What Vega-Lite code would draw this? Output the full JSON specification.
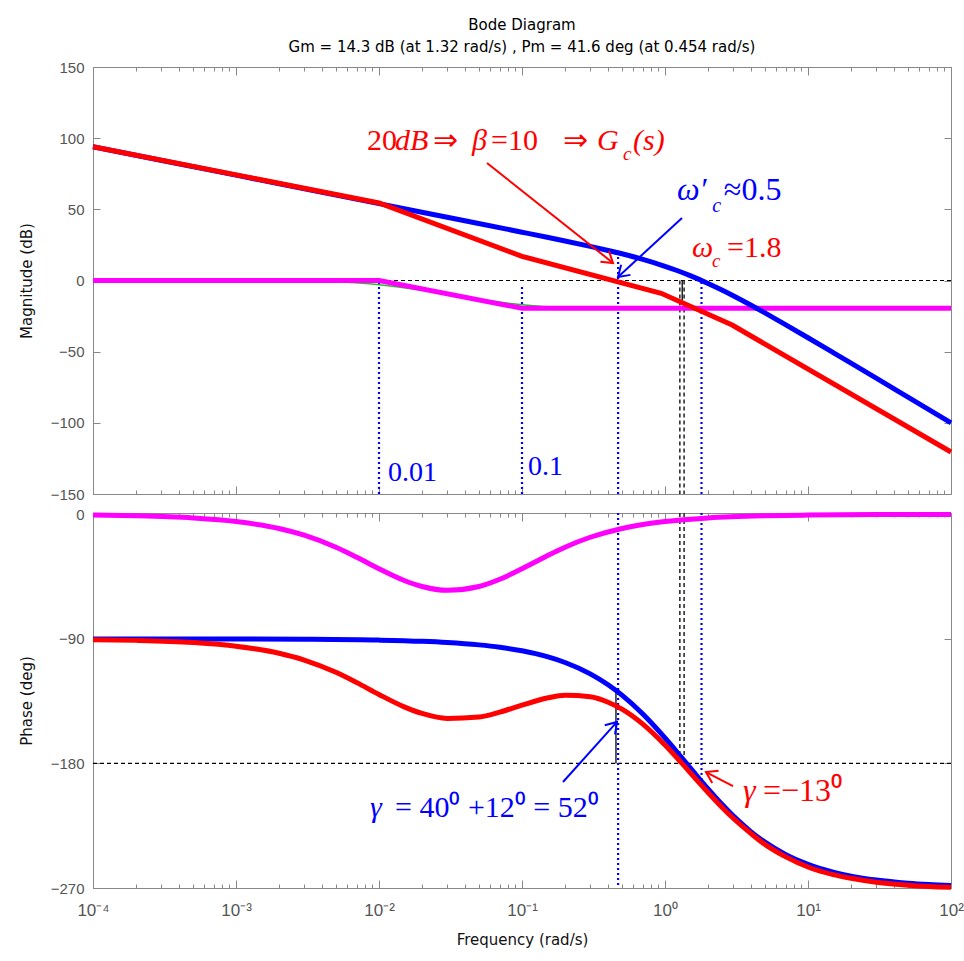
{
  "$schema": "https://vega.github.io/schema/vega-lite/v6.json",
  "padding": {"left": 18, "top": 17, "right": 5, "bottom": 5},
  "background": "white",
  "spacing": 0,
  "config": {
    "font": "Liberation Sans",
    "view": {"stroke": "#888", "strokeWidth": 1},
    "axis": {"grid": false, "domainColor": "#888", "tickColor": "#888", "labelColor": "#555", "labelFont": "Liberation Sans", "labelFontSize": 15, "titleFont": "DejaVu Sans", "titleFontSize": 15, "titleFontWeight": "normal", "titleColor": "#111"},
    "concat": {"spacing": 0}
  },
  "datasets": {
    "magBlue": [
      {"w": 0.0001, "db": 94.0}, {"w": 0.001, "db": 74.0}, {"w": 0.01, "db": 54.0}, {"w": 0.03, "db": 44.4},
      {"w": 0.1, "db": 33.93}, {"w": 0.15, "db": 30.34}, {"w": 0.2, "db": 27.75}, {"w": 0.3, "db": 23.97},
      {"w": 0.4, "db": 21.12}, {"w": 0.5, "db": 18.77}, {"w": 0.7, "db": 14.85}, {"w": 1, "db": 10.0},
      {"w": 1.2, "db": 7.19}, {"w": 1.5, "db": 3.4}, {"w": 2, "db": -2.04}, {"w": 2.5, "db": -6.67},
      {"w": 3, "db": -10.68}, {"w": 4, "db": -17.35}, {"w": 5, "db": -22.75}, {"w": 7, "db": -31.13},
      {"w": 10, "db": -40.21}, {"w": 15, "db": -50.66}, {"w": 20, "db": -58.11}, {"w": 30, "db": -68.65},
      {"w": 50, "db": -81.95}, {"w": 100, "db": -100.0}
    ],
    "magRed": [
      {"w": 0.0001, "db": 94.0}, {"w": 0.01, "db": 54.5}, {"w": 0.1, "db": 17.0},
      {"w": 0.94, "db": -9.0}, {"w": 2.95, "db": -31.3}, {"w": 100, "db": -120.5}
    ],
    "magMagenta": [
      {"w": 0.0001, "db": 0}, {"w": 0.01, "db": 0}, {"w": 0.1, "db": -19.5}, {"w": 100, "db": -19.5}
    ],
    "magGreen": [
      {"w": 0.0001, "db": 0}, {"w": 0.001, "db": -0.04}, {"w": 0.003, "db": -0.37}, {"w": 0.005, "db": -0.96},
      {"w": 0.01, "db": -2.97}, {"w": 0.02, "db": -6.82}, {"w": 0.03, "db": -9.63}, {"w": 0.05, "db": -13.18},
      {"w": 0.1, "db": -17.03}, {"w": 0.2, "db": -19.04}, {"w": 0.5, "db": -19.83}, {"w": 1, "db": -19.96}, {"w": 100, "db": -20}
    ],
    "magZero": [{"db": 0}],
    "magBlueDots": [
      {"w": 0.01, "y1": -1, "y2": -150}, {"w": 0.1, "y1": -4.6, "y2": -150},
      {"w": 0.47, "y1": 20, "y2": -150}, {"w": 1.8, "y1": -1, "y2": -150}
    ],
    "magBlackDash": [{"w": 1.27, "y1": 0, "y2": -150}, {"w": 1.36, "y1": 0, "y2": -150}],
    "magBlackSolid": [{"w": 1.32, "y1": 0, "y2": -14.3}],
    "phBlue": [
      {"w": 0.0001, "ph": -90.01}, {"w": 0.001, "ph": -90.09}, {"w": 0.003, "ph": -90.26}, {"w": 0.01, "ph": -90.86},
      {"w": 0.02, "ph": -91.72}, {"w": 0.03, "ph": -92.58}, {"w": 0.05, "ph": -94.3}, {"w": 0.07, "ph": -96.01},
      {"w": 0.1, "ph": -98.57}, {"w": 0.15, "ph": -102.82}, {"w": 0.2, "ph": -107.02}, {"w": 0.3, "ph": -115.23},
      {"w": 0.4, "ph": -123.11}, {"w": 0.5, "ph": -130.6}, {"w": 0.7, "ph": -144.28}, {"w": 1, "ph": -161.57},
      {"w": 1.3, "ph": -175.46}, {"w": 1.6, "ph": -186.65}, {"w": 2, "ph": -198.43}, {"w": 2.5, "ph": -209.54},
      {"w": 3, "ph": -217.88}, {"w": 4, "ph": -229.4}, {"w": 5, "ph": -236.89}, {"w": 7, "ph": -245.92},
      {"w": 10, "ph": -252.98}, {"w": 15, "ph": -258.59}, {"w": 20, "ph": -261.43}, {"w": 30, "ph": -264.28},
      {"w": 50, "ph": -266.56}, {"w": 70, "ph": -267.54}, {"w": 100, "ph": -268.28}
    ],
    "phRed": [
      {"w": 0.0001, "ph": -90.52}, {"w": 0.0002, "ph": -91.05}, {"w": 0.0005, "ph": -92.62}, {"w": 0.001, "ph": -95.22},
      {"w": 0.002, "ph": -100.34}, {"w": 0.003, "ph": -105.24}, {"w": 0.005, "ph": -114.13}, {"w": 0.007, "ph": -121.59},
      {"w": 0.01, "ph": -130.15}, {"w": 0.015, "ph": -139.07}, {"w": 0.02, "ph": -143.84}, {"w": 0.03, "ph": -147.44},
      {"w": 0.05, "ph": -146.42}, {"w": 0.07, "ph": -142.89}, {"w": 0.1, "ph": -137.86}, {"w": 0.15, "ph": -132.7},
      {"w": 0.2, "ph": -130.72}, {"w": 0.3, "ph": -131.76}, {"w": 0.4, "ph": -135.72}, {"w": 0.5, "ph": -140.77},
      {"w": 0.7, "ph": -151.59}, {"w": 1, "ph": -166.7}, {"w": 1.3, "ph": -179.41}, {"w": 1.6, "ph": -189.87},
      {"w": 2, "ph": -201.01}, {"w": 2.5, "ph": -211.6}, {"w": 3, "ph": -219.59}, {"w": 4, "ph": -230.69},
      {"w": 5, "ph": -238.5}, {"w": 7, "ph": -247.5}, {"w": 10, "ph": -254.8}, {"w": 15, "ph": -260.3},
      {"w": 20, "ph": -263.0}, {"w": 30, "ph": -265.8}, {"w": 50, "ph": -268.0}, {"w": 70, "ph": -268.9}, {"w": 100, "ph": -269.5}
    ],
    "phMagenta": [
      {"w": 0.0001, "ph": -0.52}, {"w": 0.0002, "ph": -1.03}, {"w": 0.0005, "ph": -2.58}, {"w": 0.001, "ph": -5.14},
      {"w": 0.002, "ph": -10.16}, {"w": 0.003, "ph": -14.98}, {"w": 0.005, "ph": -23.7}, {"w": 0.007, "ph": -30.99},
      {"w": 0.01, "ph": -39.29}, {"w": 0.015, "ph": -47.78}, {"w": 0.02, "ph": -52.13}, {"w": 0.03, "ph": -54.87},
      {"w": 0.05, "ph": -52.13}, {"w": 0.07, "ph": -46.88}, {"w": 0.1, "ph": -39.29}, {"w": 0.15, "ph": -29.88},
      {"w": 0.2, "ph": -23.7}, {"w": 0.3, "ph": -16.53}, {"w": 0.5, "ph": -10.16}, {"w": 0.7, "ph": -7.31},
      {"w": 1, "ph": -5.14}, {"w": 2, "ph": -2.58}, {"w": 5, "ph": -1.03}, {"w": 10, "ph": -0.52}, {"w": 30, "ph": -0.17}, {"w": 100, "ph": -0.05}
    ],
    "phLine180": [{"ph": -180}],
    "phBlueDots": [{"w": 0.47, "y1": 1, "y2": -270}, {"w": 1.8, "y1": 1, "y2": -193}],
    "phBlackDash": [{"w": 1.27, "y1": 1, "y2": -180}, {"w": 1.36, "y1": 1, "y2": -180}],
    "phBlackSolid": [{"w": 0.454, "y1": -180, "y2": -128}],
    "txtRedNormal": [
      {"w": 0.008243, "db": 91.34, "t": "20"}, {"w": 0.023855, "db": 91.34, "t": "⇒"},
      {"w": 0.060729, "db": 91.34, "t": "=10"}, {"w": 0.1935, "db": 91.34, "t": "⇒"},
      {"w": 2.7144, "db": 16.51, "t": "=1.8"}
    ],
    "txtRedItalic": [
      {"w": 0.012937, "db": 91.34, "t": "dB"}, {"w": 0.044701, "db": 91.34, "t": "β"},
      {"w": 0.33458, "db": 91.34, "t": "G"}, {"w": 0.59743, "db": 91.34, "t": "(s)"},
      {"w": 1.5448, "db": 16.51, "t": "ω"}
    ],
    "txtRedSub": [{"w": 0.50853, "db": 84.66, "t": "c"}, {"w": 2.1316, "db": 9.49, "t": "c"}],
    "txtBlueNormal": [{"w": 2.58, "db": 56.56, "t": "≈0.5"}],
    "txtBlueItalic": [{"w": 1.2131, "db": 56.56, "t": "ω′"}],
    "txtBlueSub": [{"w": 2.14, "db": 48.13, "t": "c"}],
    "txtBlueSmall": [{"w": 0.011557, "db": -140.9, "t": "0.01"}, {"w": 0.11015, "db": -136.7, "t": "0.1"}],
    "arrowMagRed": [{"w1": 0.056909, "y1": 82.55, "w2": 0.43293, "y2": 12.3}],
    "arrowMagBlue": [{"w1": 1.315, "y1": 43.91, "w2": 0.46913, "y2": 2.46}],
    "phTxtBlueItalic": [{"w": 0.008652, "ph": -218.7, "t": "γ"}],
    "phTxtBlueNormal": [{"w": 0.012937, "ph": -218.7, "t": "= 40⁰ +12⁰ = 52⁰"}],
    "phTxtRedItalic": [{"w": 3.5124, "ph": -207.1, "t": "γ"}],
    "phTxtRedNormal": [{"w": 4.8444, "ph": -207.1, "t": "=−13⁰"}],
    "arrowPhBlue": [{"w1": 0.1935, "y1": -193.4, "w2": 0.46164, "y2": -150.0}],
    "arrowPhRed": [{"w1": 2.9887, "y1": -196.3, "w2": 1.935, "y2": -186.2}]
  },
  "vconcat": [
    {
      "width": 858,
      "height": 427,
      "title": {"text": "Bode Diagram", "subtitle": "Gm = 14.3 dB (at 1.32 rad/s) ,  Pm = 41.6 deg (at 0.454 rad/s)", "anchor": "middle", "frame": "group", "font": "DejaVu Sans", "fontSize": 15, "fontWeight": "normal", "color": "#000", "subtitleFont": "DejaVu Sans", "subtitleFontSize": 15, "subtitleColor": "#000", "subtitlePadding": 7, "offset": 5},
      "resolve": {"axis": {"x": "independent", "y": "independent"}},
      "layer": [
        {
          "data": {"name": "magZero"},
          "mark": {"type": "rule", "color": "#000", "strokeDash": [4, 3], "strokeWidth": 1.2},
          "encoding": {"y": {"field": "db", "type": "quantitative", "scale": {"domain": [-150, 150], "nice": false, "zero": false}, "axis": null}}
        },
        {
          "data": {"name": "magBlueDots"},
          "mark": {"type": "rule", "color": "#0000ff", "strokeDash": [2, 3], "strokeWidth": 2.2},
          "encoding": {
            "x": {"field": "w", "type": "quantitative", "scale": {"type": "log", "domain": [0.0001, 100], "nice": false}, "axis": null},
            "y": {"field": "y1", "type": "quantitative", "scale": {"domain": [-150, 150], "nice": false, "zero": false}, "axis": null},
            "y2": {"field": "y2"}
          }
        },
        {
          "data": {"name": "magBlackDash"},
          "mark": {"type": "rule", "color": "#222", "strokeDash": [4, 3], "strokeWidth": 1.5},
          "encoding": {
            "x": {"field": "w", "type": "quantitative", "scale": {"type": "log", "domain": [0.0001, 100], "nice": false}, "axis": null},
            "y": {"field": "y1", "type": "quantitative", "scale": {"domain": [-150, 150], "nice": false, "zero": false}, "axis": null},
            "y2": {"field": "y2"}
          }
        },
        {
          "data": {"name": "magBlackSolid"},
          "mark": {"type": "rule", "color": "#222", "strokeWidth": 1.5},
          "encoding": {
            "x": {"field": "w", "type": "quantitative", "scale": {"type": "log", "domain": [0.0001, 100], "nice": false}, "axis": null},
            "y": {"field": "y1", "type": "quantitative", "scale": {"domain": [-150, 150], "nice": false, "zero": false}, "axis": null},
            "y2": {"field": "y2"}
          }
        },
        {
          "data": {"name": "magGreen"},
          "mark": {"type": "line", "color": "#2eb82e", "strokeWidth": 1.5, "interpolate": "monotone"},
          "encoding": {
            "x": {"field": "w", "type": "quantitative", "scale": {"type": "log", "domain": [0.0001, 100], "nice": false}, "axis": null},
            "y": {"field": "db", "type": "quantitative", "scale": {"domain": [-150, 150], "nice": false, "zero": false}, "axis": null}
          }
        },
        {
          "data": {"name": "magMagenta"},
          "mark": {"type": "line", "color": "#ff00ff", "strokeWidth": 5},
          "encoding": {
            "x": {"field": "w", "type": "quantitative", "scale": {"type": "log", "domain": [0.0001, 100], "nice": false}, "axis": null},
            "y": {"field": "db", "type": "quantitative", "scale": {"domain": [-150, 150], "nice": false, "zero": false}, "axis": null}
          }
        },
        {
          "data": {"name": "magBlue"},
          "mark": {"type": "line", "color": "#0000ff", "strokeWidth": 5, "interpolate": "monotone"},
          "encoding": {
            "x": {"field": "w", "type": "quantitative", "scale": {"type": "log", "domain": [0.0001, 100], "nice": false},
              "axis": {"orient": "bottom", "title": null, "labels": false, "labelOverlap": false,
                "values": [0.0001,0.0002,0.0003,0.0004,0.0005,0.0006,0.0007,0.0008,0.0009,0.001,0.002,0.003,0.004,0.005,0.006,0.007,0.008,0.009,0.01,0.02,0.03,0.04,0.05,0.06,0.07,0.08,0.09,0.1,0.2,0.3,0.4,0.5,0.6,0.7,0.8,0.9,1,2,3,4,5,6,7,8,9,10,20,30,40,50,60,70,80,90,100],
                "tickSize": {"condition": {"test": "abs(log(datum.value)/LN10 - round(log(datum.value)/LN10)) < 0.001", "value": -8}, "value": -4}}},
            "y": {"field": "db", "type": "quantitative", "scale": {"domain": [-150, 150], "nice": false, "zero": false},
              "axis": {"orient": "left", "title": "Magnitude (dB)", "values": [-150, -100, -50, 0, 50, 100, 150], "tickSize": -7, "labelPadding": 16, "titlePadding": 16}}
          }
        },
        {
          "data": {"name": "magRed"},
          "mark": {"type": "line", "color": "#ff0000", "strokeWidth": 5},
          "encoding": {
            "x": {"field": "w", "type": "quantitative", "scale": {"type": "log", "domain": [0.0001, 100], "nice": false},
              "axis": {"orient": "top", "title": null, "labels": false, "labelOverlap": false,
                "values": [0.0001,0.0002,0.0003,0.0004,0.0005,0.0006,0.0007,0.0008,0.0009,0.001,0.002,0.003,0.004,0.005,0.006,0.007,0.008,0.009,0.01,0.02,0.03,0.04,0.05,0.06,0.07,0.08,0.09,0.1,0.2,0.3,0.4,0.5,0.6,0.7,0.8,0.9,1,2,3,4,5,6,7,8,9,10,20,30,40,50,60,70,80,90,100],
                "tickSize": {"condition": {"test": "abs(log(datum.value)/LN10 - round(log(datum.value)/LN10)) < 0.001", "value": -8}, "value": -4}}},
            "y": {"field": "db", "type": "quantitative", "scale": {"domain": [-150, 150], "nice": false, "zero": false},
              "axis": {"orient": "right", "title": null, "labels": false, "values": [-150, -100, -50, 0, 50, 100, 150], "tickSize": -7}}
          }
        },
        {
          "data": {"name": "txtRedNormal"},
          "mark": {"type": "text", "font": "Liberation Serif", "fontSize": 30, "color": "#ff0000", "align": "left", "baseline": "alphabetic"},
          "encoding": {
            "x": {"field": "w", "type": "quantitative", "scale": {"type": "log", "domain": [0.0001, 100], "nice": false}, "axis": null},
            "y": {"field": "db", "type": "quantitative", "scale": {"domain": [-150, 150], "nice": false, "zero": false}, "axis": null},
            "text": {"field": "t"}
          }
        },
        {
          "data": {"name": "txtRedItalic"},
          "mark": {"type": "text", "font": "Liberation Serif", "fontStyle": "italic", "fontSize": 30, "color": "#ff0000", "align": "left", "baseline": "alphabetic"},
          "encoding": {
            "x": {"field": "w", "type": "quantitative", "scale": {"type": "log", "domain": [0.0001, 100], "nice": false}, "axis": null},
            "y": {"field": "db", "type": "quantitative", "scale": {"domain": [-150, 150], "nice": false, "zero": false}, "axis": null},
            "text": {"field": "t"}
          }
        },
        {
          "data": {"name": "txtRedSub"},
          "mark": {"type": "text", "font": "Liberation Serif", "fontStyle": "italic", "fontSize": 19, "color": "#ff0000", "align": "left", "baseline": "alphabetic"},
          "encoding": {
            "x": {"field": "w", "type": "quantitative", "scale": {"type": "log", "domain": [0.0001, 100], "nice": false}, "axis": null},
            "y": {"field": "db", "type": "quantitative", "scale": {"domain": [-150, 150], "nice": false, "zero": false}, "axis": null},
            "text": {"field": "t"}
          }
        },
        {
          "data": {"name": "txtBlueNormal"},
          "mark": {"type": "text", "font": "Liberation Serif", "fontSize": 32, "color": "#0000ff", "align": "left", "baseline": "alphabetic"},
          "encoding": {
            "x": {"field": "w", "type": "quantitative", "scale": {"type": "log", "domain": [0.0001, 100], "nice": false}, "axis": null},
            "y": {"field": "db", "type": "quantitative", "scale": {"domain": [-150, 150], "nice": false, "zero": false}, "axis": null},
            "text": {"field": "t"}
          }
        },
        {
          "data": {"name": "txtBlueItalic"},
          "mark": {"type": "text", "font": "Liberation Serif", "fontStyle": "italic", "fontSize": 32, "color": "#0000ff", "align": "left", "baseline": "alphabetic"},
          "encoding": {
            "x": {"field": "w", "type": "quantitative", "scale": {"type": "log", "domain": [0.0001, 100], "nice": false}, "axis": null},
            "y": {"field": "db", "type": "quantitative", "scale": {"domain": [-150, 150], "nice": false, "zero": false}, "axis": null},
            "text": {"field": "t"}
          }
        },
        {
          "data": {"name": "txtBlueSub"},
          "mark": {"type": "text", "font": "Liberation Serif", "fontStyle": "italic", "fontSize": 20, "color": "#0000ff", "align": "left", "baseline": "alphabetic"},
          "encoding": {
            "x": {"field": "w", "type": "quantitative", "scale": {"type": "log", "domain": [0.0001, 100], "nice": false}, "axis": null},
            "y": {"field": "db", "type": "quantitative", "scale": {"domain": [-150, 150], "nice": false, "zero": false}, "axis": null},
            "text": {"field": "t"}
          }
        },
        {
          "data": {"name": "txtBlueSmall"},
          "mark": {"type": "text", "font": "Liberation Serif", "fontSize": 28, "color": "#0000ff", "align": "left", "baseline": "alphabetic"},
          "encoding": {
            "x": {"field": "w", "type": "quantitative", "scale": {"type": "log", "domain": [0.0001, 100], "nice": false}, "axis": null},
            "y": {"field": "db", "type": "quantitative", "scale": {"domain": [-150, 150], "nice": false, "zero": false}, "axis": null},
            "text": {"field": "t"}
          }
        },
        {
          "data": {"name": "arrowMagRed"},
          "mark": {"type": "rule", "color": "#ff0000", "strokeWidth": 2},
          "encoding": {
            "x": {"field": "w1", "type": "quantitative", "scale": {"type": "log", "domain": [0.0001, 100], "nice": false}, "axis": null},
            "y": {"field": "y1", "type": "quantitative", "scale": {"domain": [-150, 150], "nice": false, "zero": false}, "axis": null},
            "x2": {"field": "w2"},
            "y2": {"field": "y2"}
          }
        },
        {
          "data": {"name": "arrowMagRed"},
          "mark": {"type": "point", "shape": "M -1 -0.65 L 0 0 L -1 0.65", "filled": false, "size": 450, "angle": 38.4, "color": "#ff0000", "strokeWidth": 2, "opacity": 1},
          "encoding": {
            "x": {"field": "w2", "type": "quantitative", "scale": {"type": "log", "domain": [0.0001, 100], "nice": false}, "axis": null},
            "y": {"field": "y2", "type": "quantitative", "scale": {"domain": [-150, 150], "nice": false, "zero": false}, "axis": null}
          }
        },
        {
          "data": {"name": "arrowMagBlue"},
          "mark": {"type": "rule", "color": "#0000ff", "strokeWidth": 2},
          "encoding": {
            "x": {"field": "w1", "type": "quantitative", "scale": {"type": "log", "domain": [0.0001, 100], "nice": false}, "axis": null},
            "y": {"field": "y1", "type": "quantitative", "scale": {"domain": [-150, 150], "nice": false, "zero": false}, "axis": null},
            "x2": {"field": "w2"},
            "y2": {"field": "y2"}
          }
        },
        {
          "data": {"name": "arrowMagBlue"},
          "mark": {"type": "point", "shape": "M -1 -0.65 L 0 0 L -1 0.65", "filled": false, "size": 450, "angle": 137.3, "color": "#0000ff", "strokeWidth": 2, "opacity": 1},
          "encoding": {
            "x": {"field": "w2", "type": "quantitative", "scale": {"type": "log", "domain": [0.0001, 100], "nice": false}, "axis": null},
            "y": {"field": "y2", "type": "quantitative", "scale": {"domain": [-150, 150], "nice": false, "zero": false}, "axis": null}
          }
        }
      ]
    },
    {
      "width": 858,
      "height": 375,
      "resolve": {"axis": {"x": "independent", "y": "independent"}},
      "layer": [
        {
          "data": {"name": "phLine180"},
          "mark": {"type": "rule", "color": "#000", "strokeDash": [4, 3], "strokeWidth": 1.2},
          "encoding": {"y": {"field": "ph", "type": "quantitative", "scale": {"domain": [-270, 1], "nice": false, "zero": false}, "axis": null}}
        },
        {
          "data": {"name": "phBlueDots"},
          "mark": {"type": "rule", "color": "#0000ff", "strokeDash": [2, 3], "strokeWidth": 2.2},
          "encoding": {
            "x": {"field": "w", "type": "quantitative", "scale": {"type": "log", "domain": [0.0001, 100], "nice": false}, "axis": null},
            "y": {"field": "y1", "type": "quantitative", "scale": {"domain": [-270, 1], "nice": false, "zero": false}, "axis": null},
            "y2": {"field": "y2"}
          }
        },
        {
          "data": {"name": "phBlackDash"},
          "mark": {"type": "rule", "color": "#222", "strokeDash": [4, 3], "strokeWidth": 1.5},
          "encoding": {
            "x": {"field": "w", "type": "quantitative", "scale": {"type": "log", "domain": [0.0001, 100], "nice": false}, "axis": null},
            "y": {"field": "y1", "type": "quantitative", "scale": {"domain": [-270, 1], "nice": false, "zero": false}, "axis": null},
            "y2": {"field": "y2"}
          }
        },
        {
          "data": {"name": "phBlackSolid"},
          "mark": {"type": "rule", "color": "#222", "strokeWidth": 1.5},
          "encoding": {
            "x": {"field": "w", "type": "quantitative", "scale": {"type": "log", "domain": [0.0001, 100], "nice": false}, "axis": null},
            "y": {"field": "y1", "type": "quantitative", "scale": {"domain": [-270, 1], "nice": false, "zero": false}, "axis": null},
            "y2": {"field": "y2"}
          }
        },
        {
          "data": {"name": "phMagenta"},
          "mark": {"type": "line", "color": "#ff00ff", "strokeWidth": 5, "interpolate": "monotone"},
          "encoding": {
            "x": {"field": "w", "type": "quantitative", "scale": {"type": "log", "domain": [0.0001, 100], "nice": false},
              "axis": {"orient": "bottom", "title": "Frequency  (rad/s)", "titlePadding": 10, "labelOverlap": false, "labelFlush": false, "labelBound": false,
                "labelFontSize": 17, "labelPadding": 22, "labelBaseline": "top",
                "values": [0.0001,0.0002,0.0003,0.0004,0.0005,0.0006,0.0007,0.0008,0.0009,0.001,0.002,0.003,0.004,0.005,0.006,0.007,0.008,0.009,0.01,0.02,0.03,0.04,0.05,0.06,0.07,0.08,0.09,0.1,0.2,0.3,0.4,0.5,0.6,0.7,0.8,0.9,1,2,3,4,5,6,7,8,9,10,20,30,40,50,60,70,80,90,100],
                "labelExpr": "abs(log(datum.value)/LN10 - round(log(datum.value)/LN10)) < 0.001 ? '10' + ['⁻⁴','⁻³','⁻²','⁻¹','⁰','¹','²'][round(log(datum.value)/LN10) + 4] : ''",
                "tickSize": {"condition": {"test": "abs(log(datum.value)/LN10 - round(log(datum.value)/LN10)) < 0.001", "value": -8}, "value": -4}}},
            "y": {"field": "ph", "type": "quantitative", "scale": {"domain": [-270, 1], "nice": false, "zero": false},
              "axis": {"orient": "left", "title": "Phase (deg)", "values": [0, -90, -180, -270], "tickSize": -7, "labelPadding": 16, "titlePadding": 16}}
          }
        },
        {
          "data": {"name": "phBlue"},
          "mark": {"type": "line", "color": "#0000ff", "strokeWidth": 5, "interpolate": "monotone"},
          "encoding": {
            "x": {"field": "w", "type": "quantitative", "scale": {"type": "log", "domain": [0.0001, 100], "nice": false},
              "axis": {"orient": "top", "title": null, "labels": false, "labelOverlap": false,
                "values": [0.0001,0.0002,0.0003,0.0004,0.0005,0.0006,0.0007,0.0008,0.0009,0.001,0.002,0.003,0.004,0.005,0.006,0.007,0.008,0.009,0.01,0.02,0.03,0.04,0.05,0.06,0.07,0.08,0.09,0.1,0.2,0.3,0.4,0.5,0.6,0.7,0.8,0.9,1,2,3,4,5,6,7,8,9,10,20,30,40,50,60,70,80,90,100],
                "tickSize": {"condition": {"test": "abs(log(datum.value)/LN10 - round(log(datum.value)/LN10)) < 0.001", "value": -8}, "value": -4}}},
            "y": {"field": "ph", "type": "quantitative", "scale": {"domain": [-270, 1], "nice": false, "zero": false},
              "axis": {"orient": "right", "title": null, "labels": false, "values": [0, -90, -180, -270], "tickSize": -7}}
          }
        },
        {
          "data": {"name": "phRed"},
          "mark": {"type": "line", "color": "#ff0000", "strokeWidth": 5, "interpolate": "monotone"},
          "encoding": {
            "x": {"field": "w", "type": "quantitative", "scale": {"type": "log", "domain": [0.0001, 100], "nice": false}, "axis": null},
            "y": {"field": "ph", "type": "quantitative", "scale": {"domain": [-270, 1], "nice": false, "zero": false}, "axis": null}
          }
        },
        {
          "data": {"name": "phTxtBlueItalic"},
          "mark": {"type": "text", "font": "Liberation Serif", "fontStyle": "italic", "fontSize": 30, "color": "#0000ff", "align": "left", "baseline": "alphabetic"},
          "encoding": {
            "x": {"field": "w", "type": "quantitative", "scale": {"type": "log", "domain": [0.0001, 100], "nice": false}, "axis": null},
            "y": {"field": "ph", "type": "quantitative", "scale": {"domain": [-270, 1], "nice": false, "zero": false}, "axis": null},
            "text": {"field": "t"}
          }
        },
        {
          "data": {"name": "phTxtBlueNormal"},
          "mark": {"type": "text", "font": "Liberation Serif", "fontSize": 30, "color": "#0000ff", "align": "left", "baseline": "alphabetic"},
          "encoding": {
            "x": {"field": "w", "type": "quantitative", "scale": {"type": "log", "domain": [0.0001, 100], "nice": false}, "axis": null},
            "y": {"field": "ph", "type": "quantitative", "scale": {"domain": [-270, 1], "nice": false, "zero": false}, "axis": null},
            "text": {"field": "t"}
          }
        },
        {
          "data": {"name": "phTxtRedItalic"},
          "mark": {"type": "text", "font": "Liberation Serif", "fontStyle": "italic", "fontSize": 32, "color": "#ff0000", "align": "left", "baseline": "alphabetic"},
          "encoding": {
            "x": {"field": "w", "type": "quantitative", "scale": {"type": "log", "domain": [0.0001, 100], "nice": false}, "axis": null},
            "y": {"field": "ph", "type": "quantitative", "scale": {"domain": [-270, 1], "nice": false, "zero": false}, "axis": null},
            "text": {"field": "t"}
          }
        },
        {
          "data": {"name": "phTxtRedNormal"},
          "mark": {"type": "text", "font": "Liberation Serif", "fontSize": 32, "color": "#ff0000", "align": "left", "baseline": "alphabetic"},
          "encoding": {
            "x": {"field": "w", "type": "quantitative", "scale": {"type": "log", "domain": [0.0001, 100], "nice": false}, "axis": null},
            "y": {"field": "ph", "type": "quantitative", "scale": {"domain": [-270, 1], "nice": false, "zero": false}, "axis": null},
            "text": {"field": "t"}
          }
        },
        {
          "data": {"name": "arrowPhBlue"},
          "mark": {"type": "rule", "color": "#0000ff", "strokeWidth": 2},
          "encoding": {
            "x": {"field": "w1", "type": "quantitative", "scale": {"type": "log", "domain": [0.0001, 100], "nice": false}, "axis": null},
            "y": {"field": "y1", "type": "quantitative", "scale": {"domain": [-270, 1], "nice": false, "zero": false}, "axis": null},
            "x2": {"field": "w2"},
            "y2": {"field": "y2"}
          }
        },
        {
          "data": {"name": "arrowPhBlue"},
          "mark": {"type": "point", "shape": "M -1 -0.65 L 0 0 L -1 0.65", "filled": false, "size": 450, "angle": -48, "color": "#0000ff", "strokeWidth": 2, "opacity": 1},
          "encoding": {
            "x": {"field": "w2", "type": "quantitative", "scale": {"type": "log", "domain": [0.0001, 100], "nice": false}, "axis": null},
            "y": {"field": "y2", "type": "quantitative", "scale": {"domain": [-270, 1], "nice": false, "zero": false}, "axis": null}
          }
        },
        {
          "data": {"name": "arrowPhRed"},
          "mark": {"type": "rule", "color": "#ff0000", "strokeWidth": 2},
          "encoding": {
            "x": {"field": "w1", "type": "quantitative", "scale": {"type": "log", "domain": [0.0001, 100], "nice": false}, "axis": null},
            "y": {"field": "y1", "type": "quantitative", "scale": {"domain": [-270, 1], "nice": false, "zero": false}, "axis": null},
            "x2": {"field": "w2"},
            "y2": {"field": "y2"}
          }
        },
        {
          "data": {"name": "arrowPhRed"},
          "mark": {"type": "point", "shape": "M -1 -0.65 L 0 0 L -1 0.65", "filled": false, "size": 450, "angle": -152.6, "color": "#ff0000", "strokeWidth": 2, "opacity": 1},
          "encoding": {
            "x": {"field": "w2", "type": "quantitative", "scale": {"type": "log", "domain": [0.0001, 100], "nice": false}, "axis": null},
            "y": {"field": "y2", "type": "quantitative", "scale": {"domain": [-270, 1], "nice": false, "zero": false}, "axis": null}
          }
        }
      ]
    }
  ]
}
